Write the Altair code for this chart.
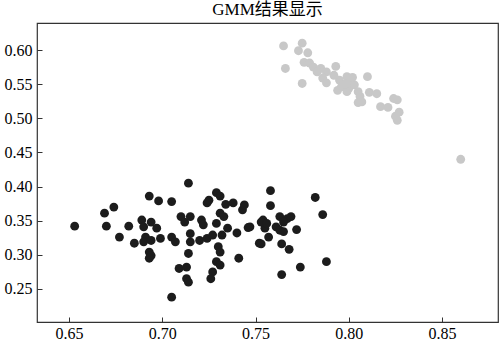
import altair as alt
import pandas as pd

# Cluster 1 (light gray)
gray_x = [0.765, 0.775, 0.773, 0.778, 0.766, 0.776, 0.779, 0.781, 0.785, 0.788,
          0.793, 0.775, 0.783, 0.786, 0.788, 0.795, 0.799, 0.801, 0.796, 0.794,
          0.800, 0.803, 0.810, 0.799, 0.805, 0.806, 0.811, 0.815, 0.805, 0.807,
          0.817, 0.821, 0.824, 0.826, 0.827, 0.826, 0.860, 0.802, 0.792, 0.798,
          0.825]
gray_y = [0.606, 0.610, 0.599, 0.596, 0.573, 0.582, 0.581, 0.575, 0.573, 0.568,
          0.576, 0.551, 0.568, 0.559, 0.552, 0.556, 0.561, 0.556, 0.546, 0.541,
          0.544, 0.549, 0.561, 0.539, 0.539, 0.532, 0.538, 0.536, 0.523, 0.524,
          0.517, 0.516, 0.529, 0.527, 0.509, 0.497, 0.440, 0.560, 0.563, 0.550,
          0.503]

# Cluster 2 (black)
black_x = [0.653, 0.669, 0.674, 0.670, 0.677, 0.682, 0.685, 0.693, 0.698, 0.705,
           0.714, 0.689, 0.690, 0.694, 0.697, 0.691, 0.690, 0.694, 0.699, 0.693,
           0.694, 0.693, 0.705, 0.707, 0.710, 0.712, 0.709, 0.713, 0.713, 0.714,
           0.705, 0.729, 0.731, 0.724, 0.725, 0.734, 0.738, 0.743, 0.744, 0.715,
           0.721, 0.722, 0.731, 0.733, 0.729, 0.735, 0.740, 0.746, 0.715, 0.720,
           0.724, 0.727, 0.732, 0.715, 0.730, 0.731, 0.714, 0.741, 0.729, 0.731,
           0.727, 0.726, 0.754, 0.755, 0.752, 0.758, 0.758, 0.782, 0.786, 0.747,
           0.753, 0.756, 0.763, 0.767, 0.769, 0.765, 0.761, 0.763, 0.765, 0.772,
           0.757, 0.753, 0.764, 0.768, 0.774, 0.788, 0.764]
black_y = [0.342, 0.361, 0.370, 0.342, 0.326, 0.342, 0.317, 0.386, 0.379, 0.378,
           0.405, 0.351, 0.341, 0.348, 0.339, 0.326, 0.319, 0.321, 0.324, 0.304,
           0.299, 0.295, 0.326, 0.319, 0.356, 0.348, 0.280, 0.282, 0.265, 0.260,
           0.238, 0.391, 0.386, 0.376, 0.380, 0.374, 0.376, 0.366, 0.373, 0.356,
           0.351, 0.344, 0.361, 0.356, 0.346, 0.339, 0.332, 0.340, 0.331, 0.321,
           0.324, 0.329, 0.329, 0.319, 0.312, 0.304, 0.302, 0.295, 0.290, 0.285,
           0.275, 0.265, 0.351, 0.339, 0.317, 0.394, 0.372, 0.384, 0.359, 0.341,
           0.348, 0.346, 0.356, 0.353, 0.356, 0.348, 0.341, 0.336, 0.334, 0.337,
           0.326, 0.316, 0.316, 0.308, 0.282, 0.290, 0.271]

x_ticks = [0.65, 0.70, 0.75, 0.80, 0.85]
y_ticks = [0.25, 0.30, 0.35, 0.40, 0.45, 0.50, 0.55, 0.60]

df = pd.concat([
    pd.DataFrame({"x": gray_x, "y": gray_y, "c": "A"}),
    pd.DataFrame({"x": black_x, "y": black_y, "c": "B"}),
], ignore_index=True)

FONT = "Liberation Serif, Noto Sans CJK SC"

chart = alt.Chart(df).mark_circle(size=78, opacity=1).encode(
    x=alt.X("x:Q",
            scale=alt.Scale(domain=[0.6328, 0.880], nice=False, zero=False),
            axis=alt.Axis(values=x_ticks, format=".2f", title=None, grid=False,
                          domain=False, tickSize=5, offset=-5, labelPadding=3,
                          tickColor="#333333", labelColor="#000000",
                          labelFont=FONT, labelFontSize=16)),
    y=alt.Y("y:Q",
            scale=alt.Scale(domain=[0.2016, 0.6396], nice=False, zero=False),
            axis=alt.Axis(values=y_ticks, format=".2f", title=None, grid=False,
                          domain=False, tickSize=5, offset=-5, labelPadding=5,
                          tickColor="#333333", labelColor="#000000",
                          labelFont=FONT, labelFontSize=16)),
    color=alt.Color("c:N", scale=alt.Scale(domain=["A", "B"], range=["#c8c8c8", "#1c1c1c"]),
                    legend=None),
).properties(
    width=461,
    height=299,
    title=alt.Title("GMM结果显示", font=FONT, fontSize=17, fontWeight="normal",
                    color="#000000", anchor="middle", offset=4),
    autosize=alt.AutoSizeParams(type="none"),
    padding={"left": 37, "top": 23, "right": 2, "bottom": 20},
).configure_view(stroke="#333333", strokeWidth=1.2)

chart.save("out.html", embed_options={"renderer": "svg", "actions": False})
